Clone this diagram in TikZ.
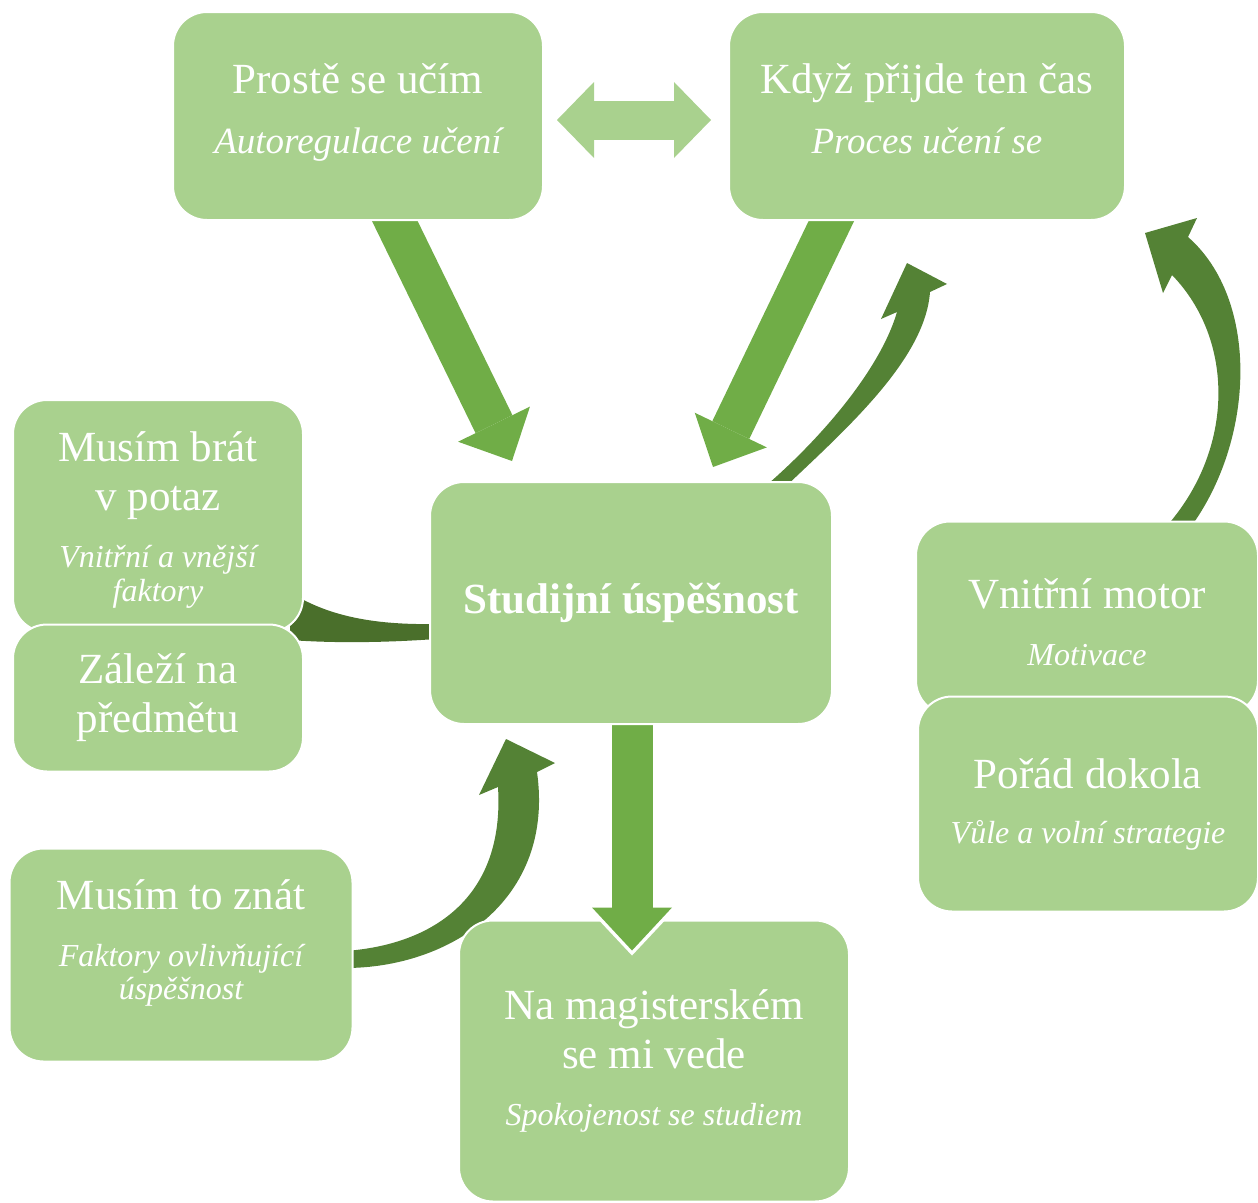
\documentclass[tikz,border=0pt]{standalone}
\usepackage{fontspec}
\setmainfont{Liberation Serif}
\usetikzlibrary{arrows.meta}
\definecolor{svetla}{HTML}{A9D18E}
\definecolor{stredni}{HTML}{70AD47}
\definecolor{tmava}{HTML}{548235}
\definecolor{tmavsi}{HTML}{4A6F2B}
\pgfdeclarelayer{pozadi}
\pgfdeclarelayer{popredi}
\pgfsetlayers{pozadi,main,popredi}
\newcommand{\pod}[1]{{\fontsize{32}{35}\selectfont\itshape #1}}
\newcommand{\podv}[1]{{\fontsize{37}{42}\selectfont\itshape #1}}
\newcommand{\hloubka}[1]{\rule[-#1]{0pt}{0pt}}
\newcommand{\vyska}[1]{\rule{0pt}{#1}}

\begin{document}
\begin{tikzpicture}[x=1pt, y=-1pt,
        ramecek/.style={rectangle, rounded corners=34pt, fill=svetla, draw=white, line width=2pt,
                        text=white, align=center, inner sep=0pt, font=\fontsize{43}{49}\selectfont},
        blokova/.style={draw=stredni, line width=41pt, -{Triangle[width=80pt,length=41pt,line width=0pt]}},
        dvojita/.style={draw=svetla, line width=39pt,
                        {Triangle[width=76pt,length=37pt,line width=0pt]}-{Triangle[width=76pt,length=37pt,line width=0pt]}}]

        \useasboundingbox (0,0) rectangle (1258,1202);

        \begin{pgfonlayer}{popredi}
        \node[ramecek, minimum width=402pt, minimum height=242pt, font=\fontsize{43}{49}\selectfont\bfseries]
            (studium) at (631,603) {Studijní úspěšnost};
        \end{pgfonlayer}

        \node[ramecek, minimum width=370pt, minimum height=208pt] (pros) at (358,116)
            {Prostě se učím\\[11pt]\podv{Autoregulace učení}\hloubka{15pt}};
        \node[ramecek, minimum width=396pt, minimum height=208pt] (kdyz) at (927,116)
            {Když přijde ten čas\\[11pt]\podv{Proces učení se}\hloubka{14pt}};
        \node[ramecek, minimum width=290pt, minimum height=232pt] (brat) at (158,516)
            {\vyska{37pt}Musím brát\\v potaz\\[8pt]\pod{Vnitřní a vnější}\\[-15pt]\pod{faktory}};
        \node[ramecek, minimum width=290pt, minimum height=147pt] (zalezi) at (158,698)
            {Záleží na\\předmětu};
        \node[ramecek, minimum width=342pt, minimum height=193pt] (motor) at (1087,618)
            {\vyska{38pt}Vnitřní motor\\[8pt]\pod{Motivace}};
        \node[ramecek, minimum width=340pt, minimum height=215pt] (dokola) at (1088,804)
            {Pořád dokola\\[6pt]\pod{Vůle a volní strategie}};
        \node[ramecek, minimum width=343pt, minimum height=213pt] (znat) at (181,955)
            {Musím to znát\\[8pt]\pod{Faktory ovlivňující}\\[-16pt]\pod{úspěšnost}\hloubka{31pt}};
        \node[ramecek, minimum width=390pt, minimum height=281pt] (magistr) at (654,1061)
            {Na magisterském\\se mi vede\\[8pt]\pod{Spokojenost se studiem}};

        \begin{pgfonlayer}{pozadi}
        \draw[dvojita] ([xshift=13pt,yshift=-4pt]pros.east) -- ([xshift=-17pt,yshift=-4pt]kdyz.west);
        \draw[blokova] ([xshift=27pt,yshift=20pt]pros.south) -- ([xshift=-119pt,yshift=20pt]studium.north);
        \draw[blokova] ([xshift=-86pt,yshift=20pt]kdyz.south) -- ([xshift=82pt,yshift=14pt]studium.north);
        % zakrivene sipky
        \fill[tmava] (761,490) .. controls (820,440) and (880,370) .. (897,312) -- (881,319) -- (907,263)
            -- (947,284) -- (930,292) .. controls (925,360) and (845,430) .. (782,490) -- cycle;
        \fill[tmava] (1165,528) .. controls (1235,450) and (1235,340) .. (1172,275) -- (1163,293) -- (1145,233)
            -- (1197,218) -- (1188,237) .. controls (1260,300) and (1255,440) .. (1190,528) -- cycle;
        \fill[tmava] (345,951) .. controls (430,945) and (505,900) .. (498,787) -- (479,795) -- (506,739)
            -- (555,763) -- (537,772) .. controls (555,900) and (450,968) .. (345,968) -- cycle;
        \fill[tmavsi] (436,624) .. controls (380,625) and (330,618) .. (290,592) -- (290,640)
            .. controls (330,643) and (380,643) .. (436,639) -- cycle;
        \end{pgfonlayer}

        \draw[blokova, draw=white, -{Triangle[width=90pt,length=48pt,line width=0pt]}]
            ([xshift=1pt,yshift=-150pt]studium.south) -- ([xshift=-22pt,yshift=-36pt]magistr.north);
        \draw[blokova, -{Triangle[width=80pt,length=43pt,line width=0pt]}]
            ([xshift=1pt,yshift=10pt]studium.south) -- ([xshift=-22pt,yshift=-31pt]magistr.north);
\end{tikzpicture}
\end{document}
